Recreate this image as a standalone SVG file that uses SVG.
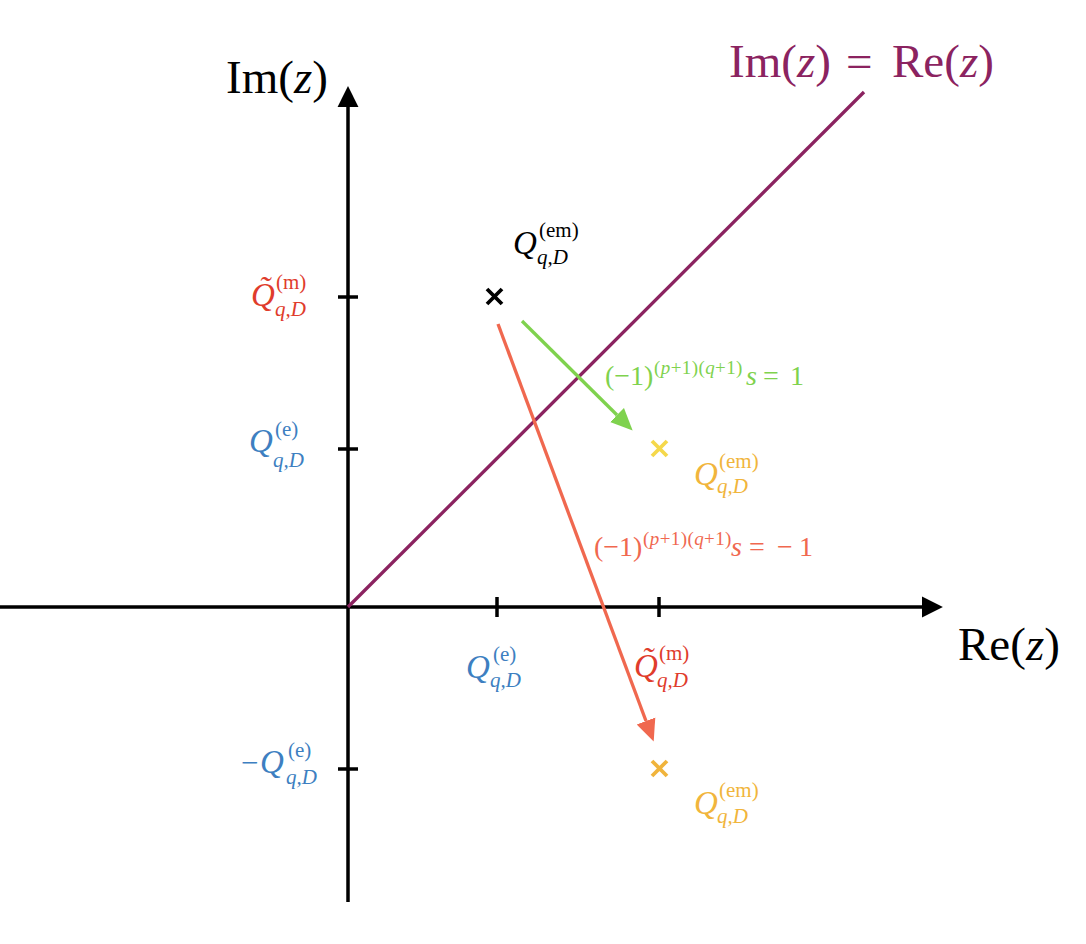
<svg xmlns="http://www.w3.org/2000/svg" width="1086" height="944" viewBox="0 0 1086 944">
<style>
text { font-family: "Liberation Serif", "DejaVu Serif", serif; }
.big { font-size: 47px; }
.Q { font-size: 33px; font-style: italic; }
.s { font-size: 21px; }
.it { font-style: italic; }
.f { font-size: 28px; }
.fs { font-size: 19px; letter-spacing: 0.4px; }
.axis { stroke: #000; stroke-width: 3.5; fill: none; }
.tick { stroke: #000; stroke-width: 3.5; }
.blk { fill: #000; }
.red { fill: #e03c2c; }
.blue { fill: #3d7fc1; }
.grn { fill: #7fd24e; }
.salm { fill: #f0684f; }
.org { fill: #f1b53c; }
.pur { fill: #8b2360; }
.cross { stroke-width: 3.8; stroke-linecap: butt; }
</style>
<defs>
<marker id="hk" markerUnits="userSpaceOnUse" markerWidth="22" markerHeight="22" viewBox="0 -10 20 20" refX="0" refY="0" orient="auto">
<path d="M0,-9.5 L19,0 L0,9.5 Z" fill="#000"/>
</marker>
<marker id="hg" markerUnits="userSpaceOnUse" markerWidth="22" markerHeight="22" viewBox="0 -10 20 20" refX="0" refY="0" orient="auto">
<path d="M0,-9 L20,0 L0,9 Z" fill="#7fd24e"/>
</marker>
<marker id="hr" markerUnits="userSpaceOnUse" markerWidth="22" markerHeight="22" viewBox="0 -10 20 20" refX="0" refY="0" orient="auto">
<path d="M0,-9 L20,0 L0,9 Z" fill="#f0684f"/>
</marker>
</defs>

<g id="connectors">
<line class="axis" x1="348" y1="902" x2="348" y2="107" marker-end="url(#hk)"/>
<line class="axis" x1="0" y1="607" x2="922" y2="607" marker-end="url(#hk)"/>
<line x1="348" y1="607" x2="864" y2="92" stroke="#8b2360" stroke-width="3.3"/>
<line x1="522" y1="321" x2="617" y2="415" stroke="#7fd24e" stroke-width="3.3" marker-end="url(#hg)"/>
<line x1="498" y1="324" x2="646" y2="721" stroke="#f0684f" stroke-width="3.3" marker-end="url(#hr)"/>
</g>

<g id="ticks">
<line class="tick" x1="338" y1="297" x2="358" y2="297"/>
<line class="tick" x1="338" y1="449" x2="358" y2="449"/>
<line class="tick" x1="338" y1="769" x2="358" y2="769"/>
<line class="tick" x1="497" y1="597" x2="497" y2="617"/>
<line class="tick" x1="659" y1="597" x2="659" y2="617"/>
</g>

<g id="axis-labels">
<text class="big blk" x="226" y="93">Im(<tspan class="it">z</tspan>)</text>
<text class="big blk" x="958" y="660">Re(<tspan class="it">z</tspan>)</text>
<text class="big pur" x="729" y="77">Im(<tspan class="it">z</tspan>)<tspan x="846">=</tspan><tspan x="892">Re(</tspan><tspan class="it">z</tspan>)</text>
</g>

<g id="node-Qem-start">
<path class="cross" d="M487,289 L502,304 M502,289 L487,304" stroke="#000"/>
<text class="Q blk" x="513" y="254">Q</text>
<text class="s blk" x="539" y="237">(em)</text>
<text class="s blk it" x="537" y="264">q,D</text>
</g>

<g id="node-Qem-plus">
<path class="cross" d="M652,441 L667,456 M667,441 L652,456" stroke="#f5d84b"/>
<text class="Q org" x="694" y="485">Q</text>
<text class="s org" x="719" y="468">(em)</text>
<text class="s org it" x="717" y="493">q,D</text>
</g>

<g id="node-Qem-minus">
<path class="cross" d="M652,761 L667,776 M667,761 L652,776" stroke="#f0b43c"/>
<text class="Q org" x="694" y="814">Q</text>
<text class="s org" x="719" y="797">(em)</text>
<text class="s org it" x="717" y="823">q,D</text>
</g>

<g id="label-Qm-y">
<text class="Q red" x="251" y="306">Q&#x303;</text>
<text class="s red" x="276" y="289">(m)</text>
<text class="s red it" x="275" y="316">q,D</text>
</g>

<g id="label-Qe-y">
<text class="Q blue" x="249" y="452">Q</text>
<text class="s blue" x="275" y="436">(e)</text>
<text class="s blue it" x="273" y="467">q,D</text>
</g>

<g id="label-minusQe-y">
<text class="blue" style="font-size:31px" x="241" y="773">−</text>
<text class="Q blue" x="260" y="773">Q</text>
<text class="s blue" x="288" y="757">(e)</text>
<text class="s blue it" x="286" y="784">q,D</text>
</g>

<g id="label-Qe-x">
<text class="Q blue" x="466" y="678">Q</text>
<text class="s blue" x="493" y="661">(e)</text>
<text class="s blue it" x="490" y="687">q,D</text>
</g>

<g id="label-Qm-x">
<text class="Q red" x="634" y="677">Q&#x303;</text>
<text class="s red" x="659" y="660">(m)</text>
<text class="s red it" x="657" y="687">q,D</text>
</g>

<g id="label-green">
<text class="f grn" x="605" y="385">(−1)</text>
<text class="fs grn" x="654" y="374">(<tspan class="it">p</tspan>+1)(<tspan class="it">q</tspan>+1)</text>
<text class="f grn it" x="746" y="385">s</text>
<text class="f grn" x="763" y="385">=</text>
<text class="f grn" x="790" y="385">1</text>
</g>

<g id="label-red">
<text class="f salm" x="594" y="556">(−1)</text>
<text class="fs salm" x="643" y="545">(<tspan class="it">p</tspan>+1)(<tspan class="it">q</tspan>+1)</text>
<text class="f salm it" x="731" y="556">s</text>
<text class="f salm" x="749" y="556">=</text>
<text class="f salm" x="777" y="556">−</text>
<text class="f salm" x="799" y="556">1</text>
</g>
</svg>
